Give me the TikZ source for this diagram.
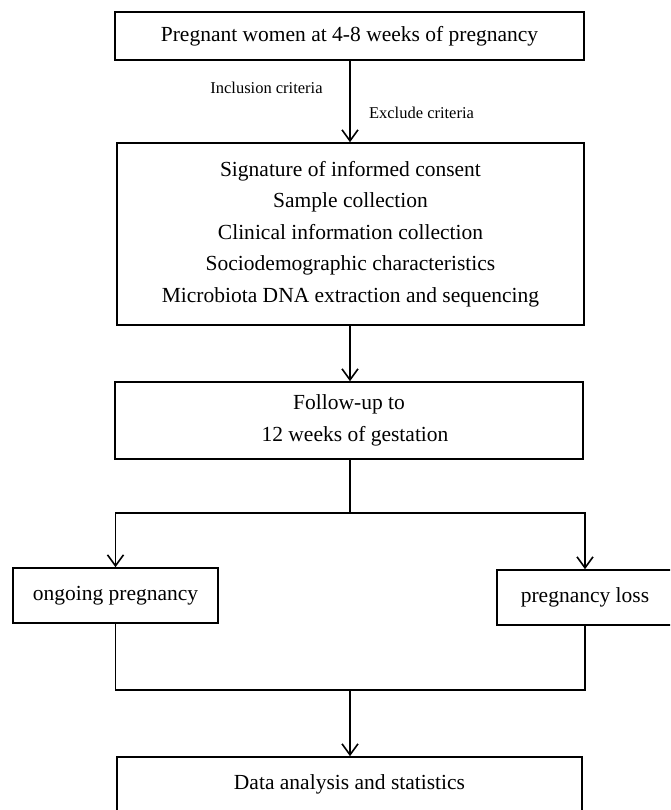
\documentclass[tikz,border=0pt]{standalone}
\usepackage{fontspec}
\setmainfont{Liberation Serif}
\usetikzlibrary{arrows.meta}

\tikzset{
    box/.style={draw, line width=1.6pt, inner sep=0pt, align=center,
        font=\fontsize{21.5}{31.5}\selectfont},
    arr/.style={line width=1.6pt, -{Straight Barb[length=11pt,width=16pt,line width=1.6pt]}},
    link/.style={line width=1.6pt},
    note/.style={inner sep=0pt, font=\fontsize{16.5}{20}\selectfont}
}

\begin{document}
\begin{tikzpicture}[x=1pt,y=-1pt]
        \clip (0,0) rectangle (670,810);
        \fill[white] (0,0) rectangle (670,810);

        \node[box, minimum width=469, minimum height=48] (women) at (349.5,36)
            {Pregnant women at 4-8 weeks of pregnancy};
        \node[box, minimum width=467, minimum height=182] (consent) at (350.5,234)
            {Signature of informed consent\\
             Sample collection\\
             Clinical information collection\\
             Sociodemographic characteristics\\
             Microbiota DNA extraction and sequencing};
        \node[box, minimum width=468, minimum height=77] (follow) at (349,420.5)
            {Follow-up to\\ \hspace*{12pt}12 weeks of gestation};
        \node[box, minimum width=205, minimum height=55] (ongoing) at (115.5,595.5)
            {ongoing pregnancy};
        \node[box, minimum width=176, minimum height=55] (loss) at (585,597.5)
            {pregnancy loss};
        \node[box, minimum width=465, minimum height=81] (analysis) at (349.5,797.5)
            {Data analysis and statistics\\ \mbox{}};

        \node[note] (incl) at (266.5,88) {Inclusion criteria};
        \node[note] (excl) at (421.5,113) {Exclude criteria};

        \coordinate (split) at (350,513);
        \coordinate (join) at (350,690);

        \draw[arr] (women.south -| split) -- (consent.north -| split);
        \draw[arr] (consent.south -| split) -- (follow.north -| split);
        \draw[link] (follow.south -| split) -- (split);
        \draw[arr] (split) -| (ongoing.north);
        \draw[arr] (split) -| (loss.north);
        \draw[link] (ongoing.south) |- (join);
        \draw[link] (loss.south) |- (join);
        \draw[arr] (join) -- (analysis.north -| join);

    \end{tikzpicture}
\end{document}
